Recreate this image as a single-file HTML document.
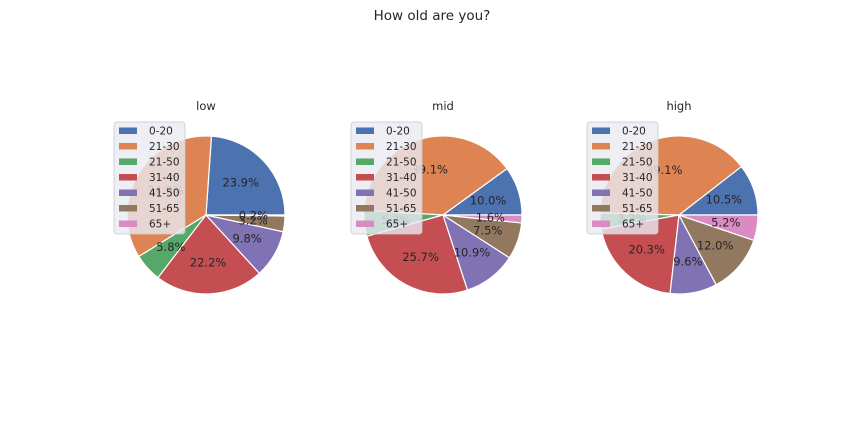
<!DOCTYPE html>
<html><head><meta charset="utf-8"><style>
body{margin:0;background:#fff;}
svg{display:block;font-family:"DejaVu Sans","Liberation Sans",sans-serif;}
</style></head><body>
<svg id="fig" width="864" height="432">
<rect width="864" height="432" fill="#fff"/>
<text x="432" y="20" text-anchor="middle" font-size="13.5" fill="#262626">How old are you?</text>
</svg>
<script>
const categories = ["0-20","21-30","21-50","31-40","41-50","51-65","65+"];
const panelTitles = ["low","mid","high"];
const lowValues = [23.9,34.9,5.8,22.2,9.8,3.2,0.2];
const midValues = [10.0,39.1,5.3,25.7,10.9,7.5,1.6];
const highValues = [10.5,39.1,3.3,20.3,9.6,12.0,5.2];
const colors = ["#4c72b0","#dd8452","#55a868","#c44e52","#8172b3","#937860","#da8bc3"];
const series = [lowValues, midValues, highValues];
const centersX = [206,443,679];
const cy = 215, R = 79;
const NS = "http://www.w3.org/2000/svg";
const svg = document.getElementById('fig');
function mk(tag, attrs, parent){const e=document.createElementNS(NS,tag);for(const k in attrs)e.setAttribute(k,attrs[k]);(parent||svg).appendChild(e);return e;}
function pt(cx,a,r){return [cx+r*Math.cos(a), cy-r*Math.sin(a)];}
series.forEach((vals,pi)=>{
  const cx = centersX[pi];
  const g = mk('g',{});
  
  
  const t = mk('text',{x:cx,y:110,'text-anchor':'middle','font-size':'11.5',fill:'#262626'},g);
  t.textContent = panelTitles[pi];
  
  
  const total = vals.reduce((a,b)=>a+b,0);
  let ang = 0;
  const labels = [];
  vals.forEach((v,i)=>{
    const span = v/total*2*Math.PI;
    const a0 = ang, a1 = ang+span;
    const p0 = pt(cx,a0,R), p1 = pt(cx,a1,R);
    const large = span>Math.PI?1:0;
    const p = mk('path',{d:`M${cx},${cy} L${p0[0]},${p0[1]} A${R},${R} 0 ${large} 0 ${p1[0]},${p1[1]} Z`,fill:colors[i],stroke:'#fff','stroke-width':1.2,'stroke-linejoin':'round'},g);
    
    
    const lp = pt(cx,(a0+a1)/2,R*0.6);
    labels.push([lp, v.toFixed(1)+'%']);
    ang = a1;
  });
  labels.forEach(([lp,s],i)=>{
    const tx = mk('text',{x:lp[0],y:lp[1]+4,'text-anchor':'middle','font-size':'11.5',fill:'#262626'},g);
    tx.textContent = s;
    
    
  });
  // legend
  const lx = cx-92, ly = 122;
  const lg = mk('g',{},g);
  
  
  mk('rect',{x:lx,y:ly,width:71,height:112,rx:3,fill:'#eaeaf2','fill-opacity':0.8,stroke:'#cccccc','stroke-opacity':0.8,'stroke-width':1},lg);
  categories.forEach((c,i)=>{
    const yy = ly+8.5+i*15.5;
    const sw = mk('rect',{x:lx+5,y:yy-3,width:18,height:6.5,fill:colors[i]},lg);
    
    
    const lt = mk('text',{x:lx+35,y:yy+4,'font-size':'10.5',fill:'#262626'},lg);
    lt.textContent = c;
    
    
  });
});
</script>
</body></html>
